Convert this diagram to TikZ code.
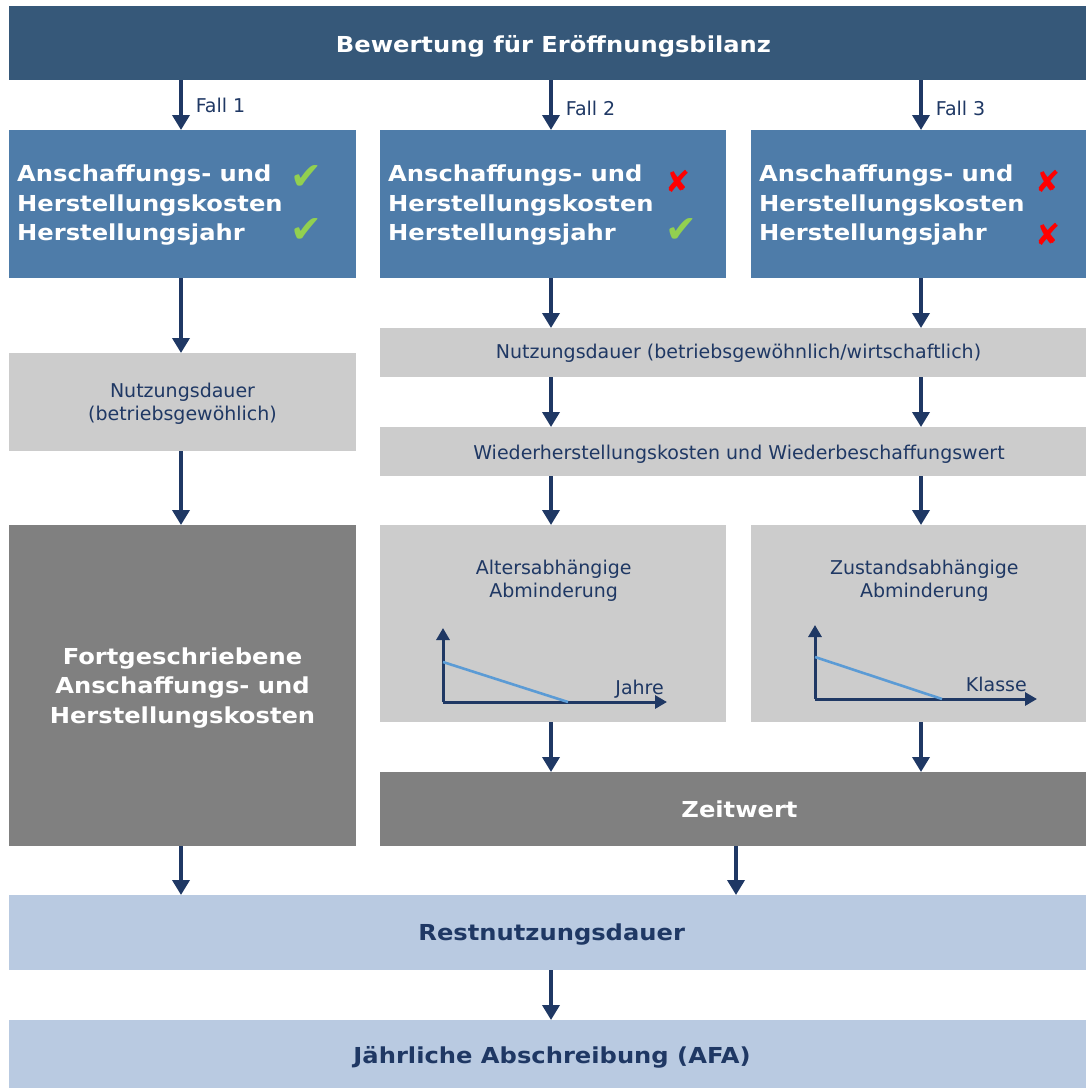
\documentclass[tikz,border=0pt]{standalone}
\usepackage{fontspec}
\setmainfont{DejaVu Sans}[BoldFeatures={FakeStretch=1.1}]
\usetikzlibrary{arrows.meta}
\definecolor{barblue}{HTML}{365879}
\definecolor{boxblue}{HTML}{4E7CA9}
\definecolor{lgray}{HTML}{CCCCCC}
\definecolor{dgray}{HTML}{808080}
\definecolor{lblue}{HTML}{B9CAE1}
\definecolor{navy}{HTML}{1F3864}
\definecolor{chkgreen}{HTML}{92D050}
\definecolor{crossred}{HTML}{FF0000}
\definecolor{chartline}{HTML}{5B9BD5}
\tikzset{
  panel/.style={anchor=north west, inner sep=0pt, outer sep=0pt, draw=none},
  arr/.style={draw=navy, line width=3.6pt, -{Triangle[length=15pt,width=17pt]}},
  axis/.style={draw=navy, line width=3pt, -{Triangle[length=12pt,width=13pt]}},
  normtxt/.style={text=navy, font=\fontsize{19}{23}\selectfont, align=center, inner sep=0pt},
  bigwhite/.style={text=white, font=\bfseries\fontsize{22}{29.5}\selectfont, inner sep=0pt},
  bignavy/.style={text=navy, font=\bfseries\fontsize{22}{29.5}\selectfont, inner sep=0pt},
  chk/.style={text=chkgreen, font=\fontsize{38}{38}\selectfont, inner sep=0pt},
  crs/.style={text=crossred, font=\fontsize{30}{30}\selectfont, inner sep=0pt},
}
\begin{document}
\begin{tikzpicture}[x=1pt, y=-1pt]
\useasboundingbox (0,0) rectangle (1086,1088);
% top bar
\node[panel, fill=barblue, minimum width=1089pt, minimum height=74pt] (top) at (9,6) {};
\node[bigwhite, anchor=base] (toptxt) at (553.5,52.3) {Bewertung für Eröffnungsbilanz};
% blue boxes
\node[panel, fill=boxblue, minimum width=347pt, minimum height=148pt] (b1) at (9,130) {};
\node[panel, fill=boxblue, minimum width=346pt, minimum height=148pt] (b2) at (380,130) {};
\node[panel, fill=boxblue, minimum width=347pt, minimum height=148pt] (b3) at (751,130) {};
\node[bigwhite, anchor=west, align=left] (b1t) at (17,205.5) {Anschaffungs- und\\Herstellungskosten\\Herstellungsjahr};
\node[bigwhite, anchor=west, align=left] (b2t) at (388,205.5) {Anschaffungs- und\\Herstellungskosten\\Herstellungsjahr};
\node[bigwhite, anchor=west, align=left] (b3t) at (759,205.5) {Anschaffungs- und\\Herstellungskosten\\Herstellungsjahr};
\node[chk] (c11) at (306,178) {✔};
\node[chk] (c12) at (306,231) {✔};
\node[crs] (c21) at (678,181) {✘};
\node[chk] (c22) at (681,230.5) {✔};
\node[crs] (c31) at (1048,181) {✘};
\node[crs] (c32) at (1048,234) {✘};
% top arrows
\draw[arr] (top.south -| 181,0) -- node[midway, right=13pt, normtxt] {Fall 1} (b1.north -| 181,0);
\draw[arr] (top.south -| 551,0) -- node[midway, right=13pt, normtxt, yshift=-3pt] {Fall 2} (b2.north -| 551,0);
\draw[arr] (top.south -| 921,0) -- node[midway, right=13pt, normtxt, yshift=-3pt] {Fall 3} (b3.north -| 921,0);
% left column
\node[panel, fill=lgray, minimum width=347pt, minimum height=98pt] (n1) at (9,353) {};
\node[normtxt] (n1t) at (182.5,403.3) {Nutzungsdauer\\(betriebsgewöhlich)};
\node[panel, fill=dgray, minimum width=347pt, minimum height=321pt] (fa) at (9,525) {};
\node[bigwhite, align=center] (fat) at (182.5,687.7) {Fortgeschriebene\\Anschaffungs- und\\Herstellungskosten};
\draw[arr] (b1.south -| 181,0) -- (n1.north -| 181,0);
\draw[arr] (n1.south -| 181,0) -- (fa.north -| 181,0);
% right column
\node[panel, fill=lgray, minimum width=718pt, minimum height=49pt] (n2) at (380,328) {};
\node[normtxt, anchor=base] (n2t) at (738.5,358.3) {Nutzungsdauer (betriebsgewöhnlich/wirtschaftlich)};
\node[panel, fill=lgray, minimum width=718pt, minimum height=49pt] (w) at (380,427) {};
\node[normtxt, anchor=base] (wt) at (739,459.3) {Wiederherstellungskosten und Wiederbeschaffungswert};
\node[panel, fill=lgray, minimum width=346pt, minimum height=197pt] (al) at (380,525) {};
\node[panel, fill=lgray, minimum width=347pt, minimum height=197pt] (zu) at (751,525) {};
\node[normtxt] (alt) at (553.7,580.5) {Altersabhängige\\Abminderung};
\node[normtxt] (zut) at (924.3,580.5) {Zustandsabhängige\\Abminderung};
\node[panel, fill=dgray, minimum width=718pt, minimum height=74pt] (zw) at (380,772) {};
\node[bigwhite, anchor=base] (zwt) at (739.5,817) {Zeitwert};
\foreach \xx in {551,921}{
  \draw[arr] (b2.south -| \xx,0) -- (n2.north -| \xx,0);
  \draw[arr] (n2.south -| \xx,0) -- (w.north -| \xx,0);
  \draw[arr] (w.south -| \xx,0) -- (al.north -| \xx,0);
  \draw[arr] (al.south -| \xx,0) -- (zw.north -| \xx,0);
}
% charts
\coordinate (o1) at (443,702);
\draw[axis] (o1) -- (443,628);
\draw[axis] (o1) -- (667,702);
\draw[chartline, line width=2.6pt] (443,662) -- (568,702);
\node[normtxt, anchor=base east] (ja) at (664,694) {Jahre};
\coordinate (o2) at (815,699);
\draw[axis] (o2) -- (815,625);
\draw[axis] (o2) -- (1037,699);
\draw[chartline, line width=2.6pt] (815,657) -- (942,699);
\node[normtxt, anchor=base east] (kl) at (1027,691) {Klasse};
% bottom
\node[panel, fill=lblue, minimum width=1089pt, minimum height=75pt] (rn) at (9,895) {};
\node[bignavy, anchor=base] (rnt) at (551.7,940) {Restnutzungsdauer};
\node[panel, fill=lblue, minimum width=1089pt, minimum height=72pt] (afa) at (9,1020) {};
\node[bignavy, anchor=base] (afat) at (552,1063.3) {Jährliche Abschreibung (AFA)};
\draw[arr] (fa.south -| 181,0) -- (rn.north -| 181,0);
\draw[arr] (zw.south -| 736,0) -- (rn.north -| 736,0);
\draw[arr] (rn.south -| 551,0) -- (afa.north -| 551,0);
\end{tikzpicture}
\end{document}
